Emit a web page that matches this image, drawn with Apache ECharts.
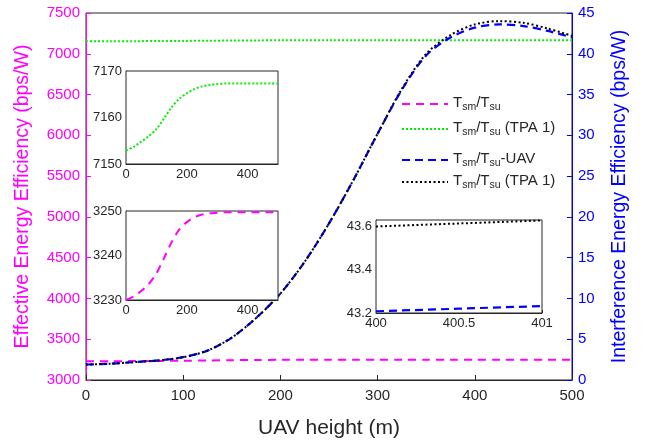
<!DOCTYPE html>
<html>
<head>
<meta charset="utf-8">
<script src="https://cdn.jsdelivr.net/npm/echarts@6/dist/echarts.min.js"></script>
<style>
  html, body { margin: 0; padding: 0; background: #fff; }
  #chart { width: 649px; height: 444px; }
</style>
</head>
<body>
<div id="chart"></div>
<script>
// UAV heights (m)
var heights = [0, 25, 50, 75, 100, 125, 150, 175, 200, 225, 250, 275, 300, 325, 350, 375, 400, 425, 450, 475, 500]
// effective energy efficiency (left axis)
var effTsm = [3230, 3230.8, 3232, 3233.6, 3236, 3239.4, 3243, 3245.8, 3247.5, 3248.6, 3249.2, 3249.5, 3249.6, 3249.7, 3249.7, 3249.7, 3249.7, 3249.7, 3249.7, 3249.7, 3249.7]
var effTpa = [7152.9, 7153.7, 7154.8, 7156, 7157.5, 7159.8, 7162.2, 7164, 7165.2, 7166.1, 7166.7, 7167, 7167.2, 7167.3, 7167.3, 7167.3, 7167.3, 7167.3, 7167.3, 7167.3, 7167.3]
// interference energy efficiency (right axis)
var intUav = [1.9, 2.0, 2.2, 2.4, 2.8, 3.6, 5.2, 7.6, 10.6, 14.5, 19.2, 24.5, 30.2, 35.6, 39.8, 42.0, 43.2, 43.6, 43.4, 42.8, 42.0]
var intTpa = [1.9, 2.0, 2.2, 2.4, 2.8, 3.6, 5.2, 7.6, 10.6, 14.5, 19.2, 24.5, 30.2, 35.7, 40.0, 42.3, 43.6, 44.0, 43.8, 43.1, 42.2]
// zoomed window 400..401 m
var zoomH = [400, 400.5, 401]
var zoomUav = [43.208, 43.220, 43.232]
var zoomTpa = [43.600, 43.614, 43.628]

var MAGENTA = '#ff00ff'
var GREEN = '#00ee00'
var BLUE = '#0000ff'
var DARK = '#262626'
var FONT = 'Liberation Sans, Arial, sans-serif'

function pairs(xs, ys) {
  return xs.map(function(x, i) { return [x, ys[i]] })
}
function plain(v) { return String(v) }

var legendText = {
  'Tsm/Tsu': '{t|T}{s|sm}{t|/T}{s|su}',
  'Tsm/Tsu (TPA 1)': '{t|T}{s|sm}{t|/T}{s|su}{t| (TPA 1)}',
  'Tsm/Tsu-UAV': '{t|T}{s|sm}{t|/T}{s|su}{t|-UAV}',
  'Tsm/Tsu (TPA 1) UAV': '{t|T}{s|sm}{t|/T}{s|su}{t| (TPA 1)}'
}

function makeLegend(name, top) {
  return {
    data: [name],
    left: 396,
    top: top,
    orient: 'vertical',
    itemWidth: 46,
    itemHeight: 12,
    itemGap: 0,
    selectedMode: false,
    itemStyle: { opacity: 0 },
    formatter: function(n) { return legendText[n] },
    textStyle: {
      fontFamily: FONT,
      rich: {
        t: { fontSize: 15, color: DARK, fontFamily: FONT, lineHeight: 18, verticalAlign: 'top' },
        s: { fontSize: 10.5, color: DARK, fontFamily: FONT, lineHeight: 18, verticalAlign: 'bottom', padding: [9, 0, 0, 0] }
      }
    }
  }
}

function insetAxisLabel() {
  return { color: DARK, fontSize: 13, fontFamily: FONT, margin: 4, formatter: plain, showMaxLabel: false }
}

var chart = echarts.init(document.getElementById('chart'))

chart.setOption({
  backgroundColor: '#fff',
  animation: false,
  legend: [
    makeLegend('Tsm/Tsu', 88),
    makeLegend('Tsm/Tsu (TPA 1)', 113),
    makeLegend('Tsm/Tsu-UAV', 144),
    makeLegend('Tsm/Tsu (TPA 1) UAV', 166)
  ],
  grid: [
    { left: 86, top: 13, width: 486, height: 375, show: true, borderColor: DARK, borderWidth: 1, backgroundColor: '#fff' },
    { left: 126, top: 71, width: 152, height: 93, show: true, borderColor: DARK, borderWidth: 1, backgroundColor: '#fff', z: 5 },
    { left: 126, top: 211, width: 152, height: 89, show: true, borderColor: DARK, borderWidth: 1, backgroundColor: '#fff', z: 5 },
    { left: 376, top: 220, width: 166, height: 93, show: true, borderColor: DARK, borderWidth: 1, backgroundColor: '#fff', z: 5 }
  ],
  xAxis: [
    {
      gridIndex: 0, type: 'value', min: 0, max: 500, interval: 100,
      name: 'UAV height (m)', nameLocation: 'middle', nameGap: 38,
      nameTextStyle: { color: DARK, fontSize: 21, fontFamily: FONT },
      axisLine: { lineStyle: { color: DARK } },
      axisTick: { inside: true, length: 5, lineStyle: { color: DARK } },
      axisLabel: { color: DARK, fontSize: 15, fontFamily: FONT, margin: 8, formatter: plain },
      splitLine: { show: false }
    },
    {
      gridIndex: 1, type: 'value', min: 0, max: 500, interval: 200,
      axisLine: { lineStyle: { color: DARK } },
      axisTick: { inside: true, length: 3, lineStyle: { color: DARK } },
      axisLabel: insetAxisLabel(), splitLine: { show: false }
    },
    {
      gridIndex: 2, type: 'value', min: 0, max: 500, interval: 200,
      axisLine: { lineStyle: { color: DARK } },
      axisTick: { inside: true, length: 3, lineStyle: { color: DARK } },
      axisLabel: insetAxisLabel(), splitLine: { show: false }
    },
    {
      gridIndex: 3, type: 'value', min: 400, max: 401, interval: 0.5,
      axisLine: { lineStyle: { color: DARK } },
      axisTick: { inside: true, length: 3, lineStyle: { color: DARK } },
      axisLabel: Object.assign(insetAxisLabel(), { showMaxLabel: true }), splitLine: { show: false }
    }
  ],
  yAxis: [
    {
      gridIndex: 0, type: 'value', position: 'left', min: 3000, max: 7500, interval: 500,
      name: 'Effective Energy Efficiency (bps/W)', nameLocation: 'middle', nameGap: 53,
      nameTextStyle: { color: MAGENTA, fontSize: 19.5, fontFamily: FONT },
      axisLine: { show: true, lineStyle: { color: MAGENTA } },
      axisTick: { inside: true, length: 5, lineStyle: { color: MAGENTA } },
      axisLabel: { color: MAGENTA, fontSize: 15, fontFamily: FONT, margin: 6, formatter: plain },
      splitLine: { show: false }
    },
    {
      gridIndex: 0, type: 'value', position: 'right', min: 0, max: 45, interval: 5,
      name: 'Interference Energy Efficiency (bps/W)', nameLocation: 'middle', nameGap: 38,
      nameRotate: 90,
      nameTextStyle: { color: BLUE, fontSize: 19.5, fontFamily: FONT },
      axisLine: { show: true, lineStyle: { color: BLUE } },
      axisTick: { inside: true, length: 5, lineStyle: { color: BLUE } },
      axisLabel: { color: BLUE, fontSize: 15, fontFamily: FONT, margin: 6, formatter: plain },
      splitLine: { show: false }
    },
    {
      gridIndex: 1, type: 'value', min: 7150, max: 7170, interval: 10,
      axisLine: { show: true, lineStyle: { color: DARK } },
      axisTick: { inside: true, length: 3, lineStyle: { color: DARK } },
      axisLabel: Object.assign(insetAxisLabel(), { showMaxLabel: true }), splitLine: { show: false }
    },
    {
      gridIndex: 2, type: 'value', min: 3230, max: 3250, interval: 10,
      axisLine: { show: true, lineStyle: { color: DARK } },
      axisTick: { inside: true, length: 3, lineStyle: { color: DARK } },
      axisLabel: Object.assign(insetAxisLabel(), { showMaxLabel: true }), splitLine: { show: false }
    },
    {
      gridIndex: 3, type: 'value', min: 43.2, max: 43.63, interval: 0.2,
      axisLine: { show: true, lineStyle: { color: DARK } },
      axisTick: { inside: true, length: 3, lineStyle: { color: DARK } },
      axisLabel: Object.assign(insetAxisLabel(), { formatter: function(v) { return v.toFixed(1) } }),
      splitLine: { show: false }
    }
  ],
  series: [
    {
      name: 'Tsm/Tsu', type: 'line', xAxisIndex: 0, yAxisIndex: 0, symbol: 'none', smooth: 0.3,
      data: pairs(heights, effTsm),
      lineStyle: { color: MAGENTA, width: 2, type: [8, 6] }, itemStyle: { color: MAGENTA }
    },
    {
      name: 'Tsm/Tsu (TPA 1)', type: 'line', xAxisIndex: 0, yAxisIndex: 0, symbol: 'none', smooth: 0.3,
      data: pairs(heights, effTpa),
      lineStyle: { color: GREEN, width: 2, type: [2, 2] }, itemStyle: { color: GREEN }
    },
    {
      name: 'Tsm/Tsu-UAV', type: 'line', xAxisIndex: 0, yAxisIndex: 1, symbol: 'none', smooth: 0.3,
      data: pairs(heights, intUav),
      lineStyle: { color: BLUE, width: 2.2, type: [8, 5] }, itemStyle: { color: BLUE }
    },
    {
      name: 'Tsm/Tsu (TPA 1) UAV', type: 'line', xAxisIndex: 0, yAxisIndex: 1, symbol: 'none', smooth: 0.3,
      data: pairs(heights, intTpa),
      lineStyle: { color: '#000', width: 2, type: [2, 2.5] }, itemStyle: { color: '#000' }
    },
    // inset: green curve
    {
      type: 'line', xAxisIndex: 1, yAxisIndex: 2, symbol: 'none', smooth: 0.3, z: 6,
      data: pairs(heights, effTpa),
      lineStyle: { color: GREEN, width: 2, type: [2, 2] }
    },
    // inset: magenta curve
    {
      type: 'line', xAxisIndex: 2, yAxisIndex: 3, symbol: 'none', smooth: 0.3, z: 6,
      data: pairs(heights, effTsm),
      lineStyle: { color: MAGENTA, width: 2, type: [8, 6] }
    },
    // inset: 400..401 m
    {
      type: 'line', xAxisIndex: 3, yAxisIndex: 4, symbol: 'none', z: 6,
      data: pairs(zoomH, zoomUav),
      lineStyle: { color: BLUE, width: 2.2, type: [8, 5] }
    },
    {
      type: 'line', xAxisIndex: 3, yAxisIndex: 4, symbol: 'none', z: 6,
      data: pairs(zoomH, zoomTpa),
      lineStyle: { color: '#000', width: 2, type: [2, 2.5] }
    }
  ]
})
</script>
</body>
</html>
